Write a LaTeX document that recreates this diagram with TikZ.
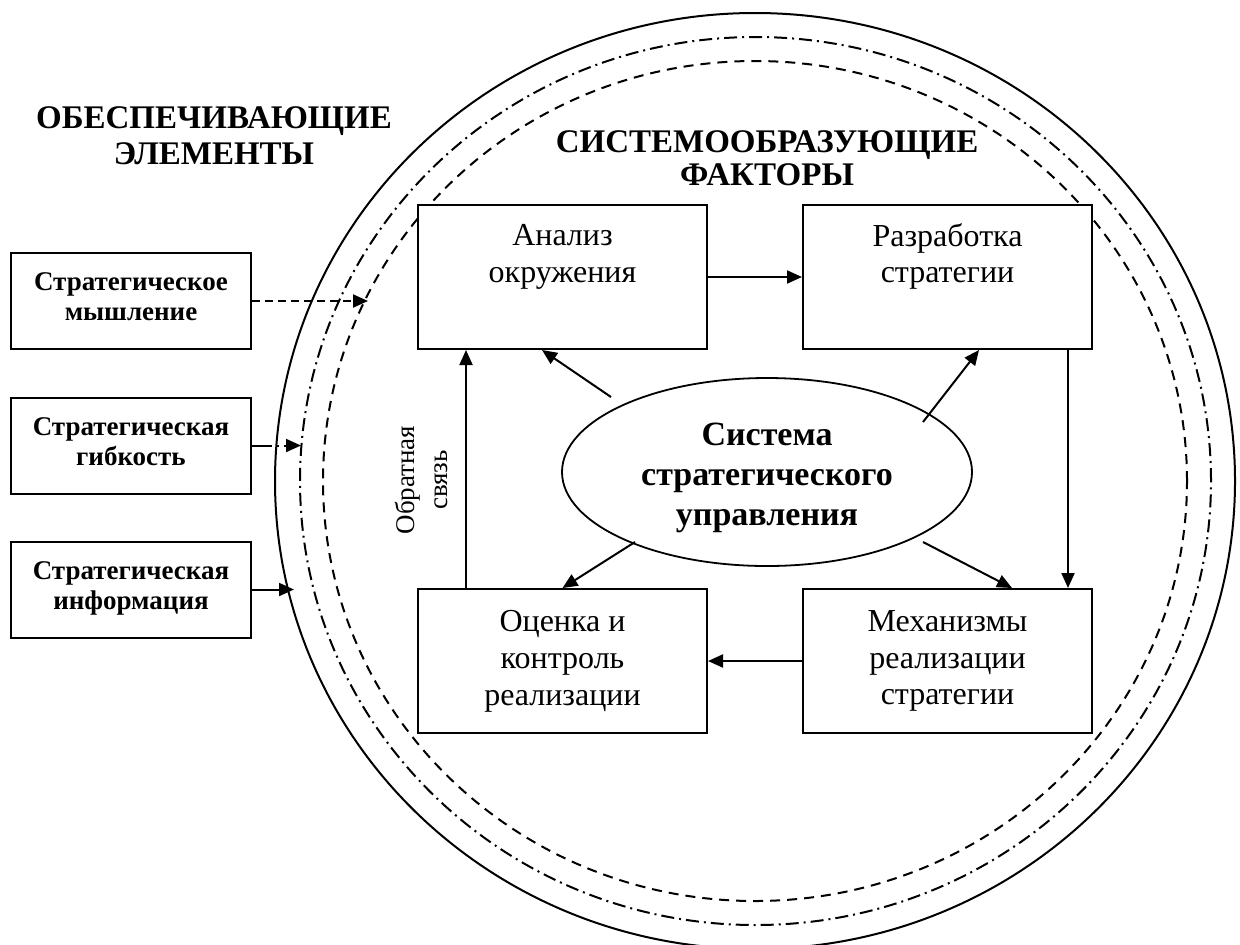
\documentclass[tikz,border=0pt]{standalone}
\usepackage{fontspec}
\setmainfont{Liberation Serif}
\usetikzlibrary{arrows.meta,shapes.geometric,calc}
\begin{document}
\begin{tikzpicture}[x=0.5pt,y=-0.5pt,
  arr/.style={line width=1pt,-{Triangle[length=7.5pt,width=6.5pt]}},
  mainbox/.style={draw,line width=1pt,fill=white,minimum width=144.5pt,minimum height=72pt,inner sep=0pt,align=center,font=\fontsize{16}{18.4}\selectfont},
  leftbox/.style={draw,line width=1pt,fill=white,minimum width=120pt,minimum height=48pt,inner sep=0pt,align=center,font=\bfseries\fontsize{13.5}{15}\selectfont},
  heading/.style={inner sep=0pt,align=center,font=\bfseries\fontsize{16.5}{18}\selectfont},
  dashdotline/.style={line width=1pt,dash pattern=on 6.5pt off 2.5pt on 1pt off 2.5pt},
  dashline/.style={line width=1pt,dash pattern=on 5pt off 3.5pt}
]
\useasboundingbox (0,0) rectangle (1240,944);
% system-forming circles
\draw[line width=1pt] (755,481) ellipse [x radius=240pt,y radius=234pt];
\draw[dashdotline] (755.5,481) ellipse [x radius=227.75pt,y radius=222pt];
\draw[dashline] (755,481) ellipse [x radius=216pt,y radius=210pt];

% headings
\node[heading] (h1) at (214,136) {ОБЕСПЕЧИВАЮЩИЕ\\ЭЛЕМЕНТЫ};
\node[heading,font=\bfseries\fontsize{16.5}{16.5}\selectfont] (h2) at (767,158) {СИСТЕМООБРАЗУЮЩИЕ\\ФАКТОРЫ};

% main boxes
\node[mainbox] (an) at (562.5,277) {Анализ\\окружения\\\strut};
\node[mainbox] (rz) at (947.5,277) {Разработка\\стратегии\\\strut};
\node[mainbox] (oc) at (562.5,661) {Оценка и\\контроль\\реализации};
\node[mainbox] (me) at (947.5,661) {Механизмы\\реализации\\стратегии};

% central ellipse
\node[ellipse,draw,line width=0.9pt,minimum width=205pt,minimum height=94pt,inner sep=0pt,align=center,font=\bfseries\fontsize{17}{20}\selectfont] (sys) at (767,472) {\rule{0pt}{17pt}Система\\стратегического\\управления};

% left boxes
\node[leftbox] (lb1) at (131,301) {Стратегическое\\мышление\rule[-4pt]{0pt}{0pt}};
\node[leftbox] (lb2) at (131,445.5) {Стратегическая\\гибкость\rule[-4pt]{0pt}{0pt}};
\node[leftbox] (lb3) at (131,589.5) {Стратегическая\\информация\rule[-4pt]{0pt}{0pt}};

\coordinate (t1) at (368,301);
\coordinate (t2) at (301,445.5);
\coordinate (t3) at (294,589.5);
\draw[arr,dash pattern=on 4pt off 2.5pt] (lb1.east) -- (t1);
\draw[arr,dash pattern=on 10pt off 2.5pt on 1pt off 2.5pt] (lb2.east) -- (t2);
\draw[arr] (lb3.east) -- (t3);

% cycle arrows
\draw[arr] (an.east) -- (rz.west);
\draw[arr] ([xshift=-12.5pt]rz.south east) -- ([xshift=-12.5pt]me.north east);
\draw[arr] (me.west) -- (oc.east);
\draw[arr] ([xshift=24.5pt]oc.north west) -- ([xshift=24.5pt]an.south west);

% feedback label
\node[rotate=90,inner sep=0pt,align=center,font=\fontsize{13.5}{16.5}\selectfont] (fb) at (421,480) {Обратная\\связь};

% arrows from system
\draw[arr] ([xshift=-78pt,yshift=37.5pt]sys.center) -- ([xshift=62.5pt]an.south west);
\draw[arr] ([xshift=78pt,yshift=25pt]sys.center) -- ([xshift=88.5pt]rz.south west);
\draw[arr] ([xshift=-66pt,yshift=-35pt]sys.center) -- (oc.north);
\draw[arr] ([xshift=78pt,yshift=-35pt]sys.center) -- ([xshift=105pt]me.north west);
\end{tikzpicture}
\end{document}
